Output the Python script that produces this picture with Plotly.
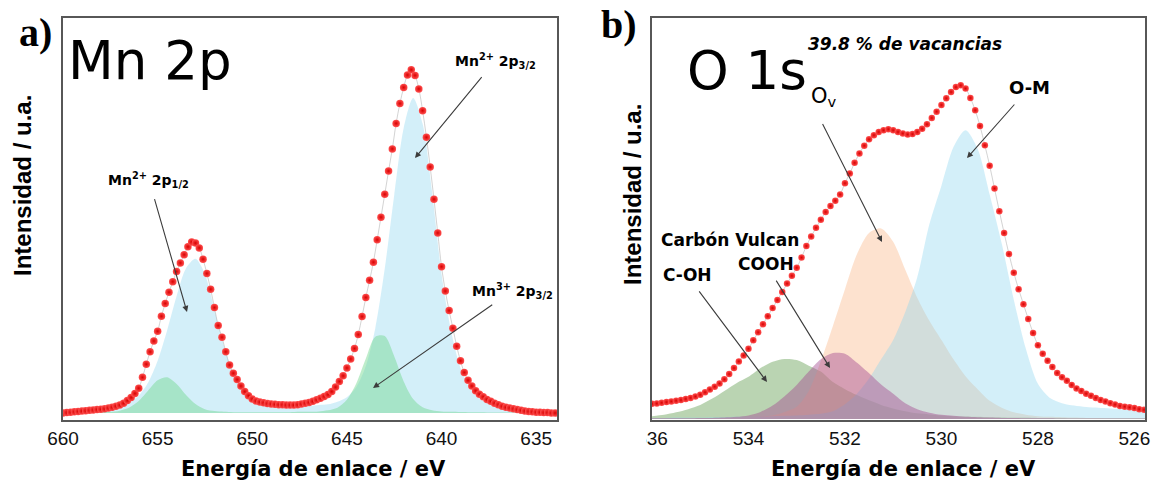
import numpy as np
import plotly.graph_objects as go

W, H = 1173, 482

# ---------------- Panel a: Mn 2p ----------------
mn_e_start, mn_e_step = 660.0, -0.2
mn_dots = [
    0.000, 0.001, 0.002, 0.003, 0.004, 0.005, 0.006, 0.007, 0.008, 0.009,
    0.010, 0.011, 0.013, 0.015, 0.018, 0.021, 0.026, 0.033, 0.041, 0.052,
    0.066, 0.095, 0.130, 0.163, 0.192, 0.218, 0.258, 0.292, 0.322, 0.350,
    0.377, 0.400, 0.422, 0.443, 0.456, 0.453, 0.440, 0.410, 0.372, 0.330,
    0.281, 0.233, 0.202, 0.163, 0.128, 0.106, 0.089, 0.072, 0.057, 0.046,
    0.037, 0.032, 0.029, 0.027, 0.025, 0.024, 0.023, 0.022, 0.022, 0.021,
    0.021, 0.021, 0.022, 0.024, 0.026, 0.028, 0.031, 0.035, 0.039, 0.044,
    0.049, 0.057, 0.069, 0.084, 0.099, 0.120, 0.144, 0.172, 0.209, 0.257,
    0.308, 0.354, 0.402, 0.462, 0.522, 0.583, 0.645, 0.704, 0.772, 0.825,
    0.868, 0.901, 0.915, 0.900, 0.864, 0.806, 0.735, 0.656, 0.570, 0.480,
    0.390, 0.325, 0.273, 0.226, 0.178, 0.139, 0.108, 0.087, 0.072, 0.059,
    0.050, 0.043, 0.036, 0.031, 0.026, 0.022, 0.018, 0.015, 0.013, 0.011,
    0.009, 0.007, 0.005, 0.004, 0.003, 0.002, 0.002, 0.001, 0.001, 0.000,
    0.000,
]
mn_c_start, mn_c_step = 660.0, -0.5
mn2_fit = [
    0.006, 0.007, 0.008, 0.009, 0.011, 0.013, 0.018, 0.028, 0.046, 0.081,
    0.139, 0.220, 0.311, 0.386, 0.411, 0.370, 0.276, 0.180, 0.105, 0.060,
    0.036, 0.025, 0.020, 0.018, 0.018, 0.018, 0.019, 0.021, 0.023, 0.030,
    0.042, 0.069, 0.125, 0.226, 0.385, 0.581, 0.760, 0.840, 0.771, 0.590,
    0.370, 0.220, 0.120, 0.066, 0.038, 0.026, 0.020, 0.016, 0.013, 0.011,
    0.010, 0.008, 0.007,
]
mn3_fit = [
    0.001, 0.001, 0.001, 0.0015, 0.002, 0.003, 0.006, 0.0145, 0.032, 0.060,
    0.087, 0.095, 0.077, 0.048, 0.024, 0.010, 0.005, 0.003, 0.002, 0.002,
    0.002, 0.002, 0.002, 0.002, 0.002, 0.003, 0.003, 0.004, 0.007, 0.014,
    0.035, 0.079, 0.145, 0.203, 0.205, 0.151, 0.084, 0.037, 0.015, 0.007,
    0.004, 0.003, 0.0025, 0.002, 0.002, 0.0015, 0.0015, 0.001, 0.001, 0.001,
    0.001, 0.001, 0.001,
]
mn_ticks = [660, 655, 650, 645, 640, 635]

# ---------------- Panel b: O 1s ----------------
o_e_start, o_e_step = 536.0, -0.1
o_dots = [
    0.043, 0.044, 0.046, 0.048, 0.050, 0.052, 0.054, 0.057, 0.060, 0.064,
    0.069, 0.076, 0.084, 0.092, 0.101, 0.113, 0.128, 0.145, 0.164, 0.181,
    0.200, 0.224, 0.247, 0.270, 0.293, 0.316, 0.339, 0.362, 0.386, 0.408,
    0.431, 0.460, 0.493, 0.520, 0.545, 0.568, 0.590, 0.607, 0.622, 0.640,
    0.672, 0.700, 0.730, 0.757, 0.779, 0.797, 0.809, 0.818, 0.823, 0.826,
    0.823, 0.818, 0.814, 0.811, 0.812, 0.818, 0.827, 0.840, 0.858, 0.876,
    0.895, 0.914, 0.932, 0.946, 0.951, 0.942, 0.915, 0.880, 0.835, 0.780,
    0.722, 0.657, 0.592, 0.530, 0.470, 0.417, 0.370, 0.327, 0.285, 0.245,
    0.210, 0.186, 0.166, 0.148, 0.131, 0.119, 0.109, 0.097, 0.087, 0.080,
    0.072, 0.066, 0.060, 0.054, 0.050, 0.045, 0.041, 0.037, 0.035, 0.033,
    0.031, 0.028, 0.026,
]
o_c_start, o_c_step = 536.0, -0.25
coh_fit = [
    0.008, 0.012, 0.019, 0.028, 0.040, 0.058, 0.080, 0.102, 0.120, 0.145,
    0.163, 0.171, 0.168, 0.152, 0.135, 0.105, 0.085, 0.068, 0.053, 0.040,
    0.030, 0.022, 0.016, 0.013, 0.010, 0.008, 0.007, 0.006, 0.005, 0.005,
    0.004, 0.004, 0.003, 0.003, 0.003, 0.002, 0.002, 0.002, 0.002, 0.002,
    0.002, 0.002,
]
cooh_fit = [
    0.002, 0.002, 0.002, 0.002, 0.003, 0.003, 0.004, 0.006, 0.010, 0.020,
    0.038, 0.065, 0.097, 0.135, 0.170, 0.188, 0.186, 0.160, 0.130, 0.098,
    0.072, 0.045, 0.028, 0.018, 0.012, 0.009, 0.006, 0.005, 0.004, 0.003,
    0.003, 0.002, 0.002, 0.002, 0.001, 0.001, 0.001, 0.001, 0.001, 0.001,
    0.001, 0.001,
]
ov_fit = [
    0.001, 0.001, 0.001, 0.002, 0.002, 0.002, 0.003, 0.004, 0.005, 0.007,
    0.010, 0.020, 0.035, 0.080, 0.165, 0.265, 0.370, 0.470, 0.530, 0.543,
    0.505, 0.425, 0.345, 0.280, 0.225, 0.170, 0.122, 0.085, 0.052, 0.032,
    0.019, 0.012, 0.008, 0.006, 0.005, 0.004, 0.003, 0.003, 0.002, 0.002,
    0.002, 0.002,
]
om_fit = [
    0.003, 0.003, 0.004, 0.004, 0.004, 0.005, 0.005, 0.006, 0.006, 0.007,
    0.008, 0.009, 0.010, 0.012, 0.015, 0.022, 0.042, 0.072, 0.115, 0.170,
    0.225, 0.305, 0.405, 0.555, 0.665, 0.775, 0.823, 0.770, 0.640, 0.500,
    0.340, 0.200, 0.100, 0.060, 0.045, 0.038, 0.034, 0.032, 0.030, 0.028,
    0.027, 0.026,
]
o_ticks = [536, 534, 532, 530, 528, 526]


def grid(start, step, n):
    return np.round(start + step * np.arange(n), 3)


mn_e = grid(mn_e_start, mn_e_step, len(mn_dots))
mn_ce = grid(mn_c_start, mn_c_step, len(mn2_fit))
o_e = grid(o_e_start, o_e_step, len(o_dots))
o_ce = grid(o_c_start, o_c_step, len(om_fit))

fig = go.Figure()


def comp(x, y, fill, xa, ya):
    fig.add_trace(go.Scatter(
        x=x, y=y, mode="lines", fill="tozeroy", fillcolor=fill,
        line=dict(width=0, shape="spline", smoothing=0.8, color=fill),
        xaxis=xa, yaxis=ya, hoverinfo="skip", showlegend=False))


def dots(x, y, xa, ya, size):
    fig.add_trace(go.Scatter(
        x=x, y=y, mode="lines",
        line=dict(width=1, color="rgba(175,175,175,0.55)", shape="spline"),
        xaxis=xa, yaxis=ya, hoverinfo="skip", showlegend=False))
    fig.add_trace(go.Scatter(
        x=x, y=y, mode="markers",
        marker=dict(size=size, color="#ff5050",
                    gradient=dict(type="radial", color="#d80000"),
                    line=dict(width=0)),
        xaxis=xa, yaxis=ya, hoverinfo="skip", showlegend=False))


# panel a components
comp(mn_ce, mn2_fit, "rgba(140,212,240,0.38)", "x", "y")
comp(mn_ce, mn3_fit, "rgba(110,215,140,0.45)", "x", "y")
dots(mn_e, mn_dots, "x", "y", 7.5)

# panel b components
comp(o_ce, coh_fit, "rgba(110,165,95,0.48)", "x2", "y2")
comp(o_ce, ov_fit, "rgba(250,185,140,0.42)", "x2", "y2")
comp(o_ce, om_fit, "rgba(140,212,240,0.38)", "x2", "y2")
comp(o_ce, cooh_fit, "rgba(165,75,145,0.45)", "x2", "y2")
dots(o_e, o_dots, "x2", "y2", 6.5)

FRAME = "#575757"
TICKFONT = dict(family="Liberation Sans", size=19, color="#111")


def xax(dom, rng, ticks, anchor):
    return dict(domain=dom, range=rng, anchor=anchor, tickvals=ticks,
                ticktext=[str(t) for t in ticks], automargin=False,
                showline=True, mirror=True, linecolor=FRAME, linewidth=2,
                ticks="", showgrid=False, zeroline=False, tickfont=TICKFONT)


def yax(dom, rng, anchor):
    return dict(domain=dom, range=rng, anchor=anchor, showline=True, mirror=True,
                linecolor=FRAME, linewidth=2, ticks="", showticklabels=False,
                automargin=False, showgrid=False, zeroline=False)


def px(x):
    return x / W


def py(y):
    return 1 - y / H


ydom = [py(420), py(18)]
fig.update_layout(
    width=W, height=H, margin=dict(l=0, r=0, t=0, b=0, pad=0, autoexpand=False),
    paper_bgcolor="white", plot_bgcolor="white", showlegend=False,
    xaxis=xax([px(63), px(557)], [660, 633.9], mn_ticks, "y"),
    yaxis=yax(ydom, [-0.0187, 1.053], "x"),
    xaxis2=xax([px(652), px(1145)], [536, 525.78], o_ticks, "y2"),
    yaxis2=yax(ydom, [-0.003, 1.143], "x2"),
)

ann = []


def text(x, y, s, size, family="DejaVu Sans", xanchor="center", arrow_to=None,
         start_off=0, angle=0):
    a = dict(xref="paper", yref="paper", text=s, xanchor=xanchor, yanchor="middle",
             textangle=angle, font=dict(family=family, size=size, color="#000"))
    if arrow_to is None:
        a.update(x=px(x), y=py(y), showarrow=False)
    else:
        hx, hy = arrow_to
        a.update(x=px(hx), y=py(hy), showarrow=True, ax=x - hx, ay=y - hy,
                 axref="pixel", ayref="pixel", arrowhead=2, arrowsize=1.1,
                 arrowwidth=1.1, arrowcolor="#3c3c3c", standoff=0,
                 startstandoff=start_off)
    ann.append(a)


# panel letters and titles
text(35, 33, "<b>a)</b>", 40, family="Liberation Serif")
text(619, 24, "<b>b)</b>", 40, family="Liberation Serif")
text(66, 60, "Mn 2p", 53, xanchor="left")
text(685, 70, "O 1s", 53, xanchor="left")
text(809, 97, "O<sub>v</sub>", 21, xanchor="left", arrow_to=(882, 242), start_off=14)
text(905, 44, "<b><i>39.8 % de vacancias</i></b>", 17)

# axis titles
text(23, 186, "<b>Intensidad / u.a.</b>", 24, family="Liberation Sans", angle=-90)
text(632, 195, "<b>Intensidad / u.a.</b>", 24, family="Liberation Sans", angle=-90)
text(313, 469, "<b>Energía de enlace / eV</b>", 21)
text(903, 469, "<b>Energía de enlace / eV</b>", 21)

# peak labels with arrows
text(149, 180, "<b>Mn<sup>2+</sup> 2p<sub>1/2</sub></b>", 14, arrow_to=(187, 312), start_off=8)
text(495, 61, "<b>Mn<sup>2+</sup> 2p<sub>3/2</sub></b>", 14, arrow_to=(415, 158), start_off=6)
text(512, 291, "<b>Mn<sup>3+</sup> 2p<sub>3/2</sub></b>", 14, arrow_to=(373, 388), start_off=4)

text(1029, 88, "<b>O-M</b>", 18, arrow_to=(967, 158), start_off=6)
text(730, 240, "<b>Carbón Vulcan</b>", 17)
text(687, 275, "<b>C-OH</b>", 17, arrow_to=(767, 382), start_off=6)
text(766, 264, "<b>COOH</b>", 17, arrow_to=(830, 368), start_off=6)

fig.update_layout(annotations=ann)

# the left digit of the first tick label of panel b is hidden in the original
fig.add_shape(type="rect", xref="paper", yref="paper", x0=px(596), x1=px(646),
              y0=py(456), y1=py(426), fillcolor="white", line=dict(width=0),
              layer="above")

fig.write_html("out.html", config={"displayModeBar": False},
               post_script="document.body.style.margin='0';document.body.style.padding='0';")
